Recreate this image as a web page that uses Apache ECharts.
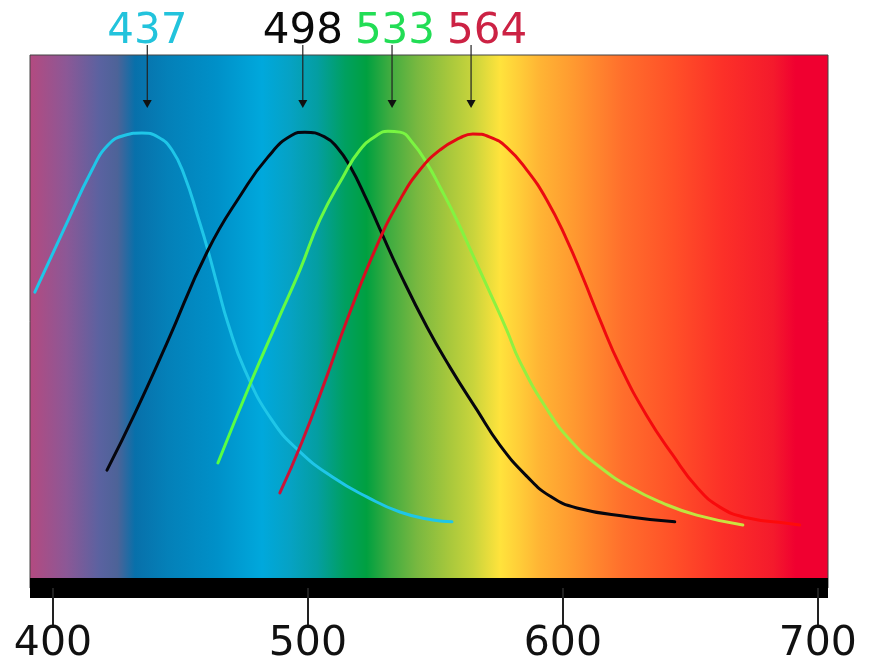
<!DOCTYPE html>
<html>
<head>
<meta charset="utf-8">
<script src="https://cdn.jsdelivr.net/npm/echarts@6/dist/echarts.min.js"></script>
<style>
  html, body { margin: 0; padding: 0; background: #ffffff; }
  #chart { width: 887px; height: 671px; }
</style>
</head>
<body>
<div id="chart"></div>
<script>
// ---- Data (wavelength in nm, relative sensitivity with peak ~100) ----
const axisTicks = [400, 500, 600, 700];
const peakLabels = [437, 498, 533, 564];

const sWl  = [392.9, 404.7, 415.3, 421.6, 428.2, 434.9, 441.2, 446.7, 451.8, 456.9, 460.8, 464.7, 468.6, 475.3, 485.9, 496.9, 509.8, 523.1, 536.1, 549.0, 556.5];
const sVal = [64.1, 78.7, 91.5, 97.1, 99.3, 99.8, 98.9, 96.0, 89.9, 80.9, 73.5, 65.2, 57.2, 46.6, 35.4, 28.3, 22.6, 18.2, 14.8, 13.0, 12.6];

const rodWl  = [421.2, 432.2, 444.7, 460.8, 474.1, 484.3, 493.7, 498.8, 506.7, 511.4, 516.5, 523.1, 528.2, 536.1, 546.7, 555.7, 566.3, 575.3, 585.9, 594.9, 605.5, 626.3, 643.9];
const rodVal = [24.2, 37.0, 52.7, 73.5, 86.3, 94.4, 99.3, 100.0, 98.9, 96.6, 92.4, 84.8, 78.3, 68.4, 56.3, 47.3, 37.7, 29.8, 22.8, 18.4, 15.7, 13.7, 12.6];

const mWl  = [464.7, 478.0, 488.2, 496.9, 504.7, 513.7, 520.4, 527.1, 531.4, 536.1, 541.2, 546.7, 551.8, 558.4, 564.7, 571.4, 578.0, 583.1, 593.7, 603.9, 614.5, 626.3, 639.2, 652.5, 670.6];
const mVal = [25.8, 44.4, 57.8, 69.1, 80.3, 89.9, 96.0, 99.3, 100.2, 100.0, 97.5, 93.0, 87.7, 80.3, 72.4, 64.0, 55.6, 48.6, 37.9, 30.3, 24.9, 20.4, 16.8, 14.1, 11.9];

const lWl  = [489.0, 497.6, 506.7, 515.3, 527.1, 536.1, 543.9, 551.8, 559.6, 564.7, 571.4, 578.0, 585.9, 593.7, 601.6, 607.8, 614.5, 622.4, 632.9, 643.1, 652.5, 661.6, 672.2, 687.8, 692.9];
const lVal = [19.1, 30.4, 44.1, 57.8, 74.6, 84.8, 91.5, 96.0, 98.7, 99.6, 98.9, 96.6, 91.5, 84.8, 75.8, 67.5, 58.0, 47.6, 36.4, 27.6, 20.4, 15.9, 13.5, 12.3, 11.9];

// ---- Styles ----
const labelColors = ['#22c3dc', '#0a0a0a', '#22dd55', '#cc2244'];
const labelFont = '42px "DejaVu Sans"';
const zip = (a, b) => a.map((v, i) => [v, b[i]]);
const G = echarts.graphic.LinearGradient;

const spectrum = new G(0, 0, 1, 0, [
  { offset: 0.000, color: '#b44a80' },
  { offset: 0.046, color: '#8c5896' },
  { offset: 0.088, color: '#5a62a0' },
  { offset: 0.110, color: '#4d6398' },
  { offset: 0.132, color: '#0870aa' },
  { offset: 0.172, color: '#0480b8' },
  { offset: 0.234, color: '#0090c8' },
  { offset: 0.291, color: '#00a8dc' },
  { offset: 0.326, color: '#06a2c4' },
  { offset: 0.360, color: '#049ea2' },
  { offset: 0.395, color: '#00a060' },
  { offset: 0.422, color: '#00a040' },
  { offset: 0.451, color: '#40ac40' },
  { offset: 0.485, color: '#78b840' },
  { offset: 0.526, color: '#a8c83c' },
  { offset: 0.555, color: '#c8d43c' },
  { offset: 0.589, color: '#ffe33c' },
  { offset: 0.614, color: '#ffcc38' },
  { offset: 0.639, color: '#ffb434' },
  { offset: 0.680, color: '#ff9a30' },
  { offset: 0.743, color: '#ff6e2c' },
  { offset: 0.806, color: '#ff5028' },
  { offset: 0.868, color: '#fc3028' },
  { offset: 0.931, color: '#f41a2c' },
  { offset: 0.959, color: '#f00030' },
  { offset: 1.000, color: '#f00030' }
]);

function curve(name, data, color) {
  return {
    name, type: 'line', data, smooth: 0.5, showSymbol: false, silent: true,
    lineStyle: { width: 3, color, cap: 'round' }, z: 3
  };
}

// measure label widths for a simple left-to-right non-overlap layout
const measureCtx = document.createElement('canvas').getContext('2d');
measureCtx.font = labelFont;
function labelCenters(api) {
  const gap = 12;
  const centers = [];
  let prevRight = -Infinity;
  peakLabels.forEach(v => {
    const w = measureCtx.measureText(String(v)).width;
    const px = api.coord([v, 0])[0];
    const c = Math.max(px, prevRight + gap + w / 2);
    centers.push(c);
    prevRight = c + w / 2;
  });
  return centers;
}

const chart = echarts.init(document.getElementById('chart'), null, { renderer: 'canvas' });
chart.setOption({
  animation: false,
  backgroundColor: '#ffffff',
  grid: {
    left: 30, right: 59, top: 55, bottom: 83, outerBoundsMode: 'none', containLabel: false,
    show: true, backgroundColor: spectrum, borderColor: '#444', borderWidth: 1
  },
  xAxis: {
    type: 'value', min: 391, max: 704,
    axisLine: { show: true, onZero: false, lineStyle: { color: '#000', width: 20, cap: 'butt' } },
    axisTick: { show: true, customValues: axisTicks, length: 40, lineStyle: { color: '#222', width: 2 } },
    axisLabel: { show: true, customValues: axisTicks, margin: 41, fontSize: 41, lineHeight: 30, color: '#111', fontFamily: 'DejaVu Sans' },
    splitLine: { show: false }
  },
  yAxis: { type: 'value', min: -2.24, max: 117.3, show: false, splitLine: { show: false } },
  series: [
    curve('S', zip(sWl, sVal), '#1fc6e8'),
    curve('Rod', zip(rodWl, rodVal), '#06060e'),
    curve('M', zip(mWl, mVal), new G(0, 0, 1, 0, [
      { offset: 0, color: '#55ff44' }, { offset: 0.5, color: '#88f240' }, { offset: 1, color: '#d0e040' }
    ])),
    curve('L', zip(lWl, lVal), new G(0, 0, 1, 0, [
      { offset: 0, color: '#c8143c' }, { offset: 0.25, color: '#e00a14' }, { offset: 1, color: '#ff0a0a' }
    ])),
    {
      type: 'custom', coordinateSystem: 'cartesian2d', clip: false, silent: true, z: 5,
      data: peakLabels.map(v => [v, 0]),
      renderItem(params, api) {
        const x = api.coord([api.value(0), 0])[0];
        const top = params.coordSys.y;
        const i = params.dataIndex;
        const cx = labelCenters(api)[i];
        return {
          type: 'group',
          children: [
            { type: 'line', shape: { x1: x, y1: top - 10, x2: x, y2: top + 46 }, style: { stroke: '#222', lineWidth: 1.2 } },
            { type: 'polygon', shape: { points: [[x - 4.5, top + 45], [x + 4.5, top + 45], [x, top + 53]] }, style: { fill: '#111' } },
            { type: 'text', x: cx, y: top - 23, style: { text: String(api.value(0)), fill: labelColors[i], font: labelFont, align: 'center', verticalAlign: 'middle' } }
          ]
        };
      }
    }
  ]
});
</script>
</body>
</html>
